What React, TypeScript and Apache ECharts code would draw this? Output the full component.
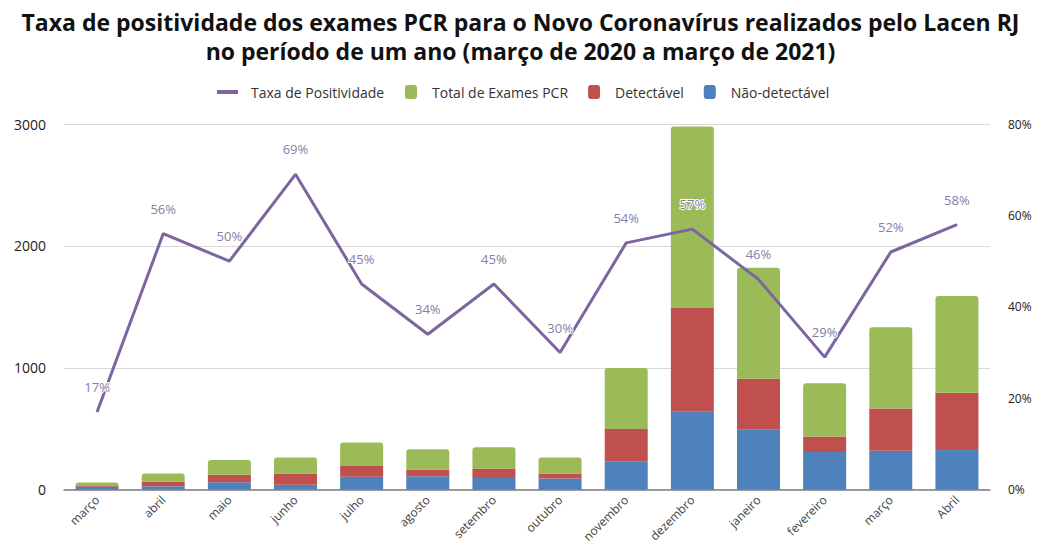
import React, { useEffect, useRef } from "react";
import * as echarts from "echarts";

const categories = ["março", "abril", "maio", "junho", "julho", "agosto", "setembro", "outubro", "novembro", "dezembro", "janeiro", "fevereiro", "março", "Abril"];
const naoDetectavel = [25, 29, 61, 41, 107, 110, 96, 92, 229, 640, 491, 310, 320, 334];
const detectavel = [5, 37, 61, 91, 87, 56, 78, 40, 270, 850, 419, 127, 346, 461];
const totalExames = [30, 66, 122, 132, 194, 166, 174, 132, 499, 1490, 910, 437, 666, 795];
const taxaPositividade = [0.17, 0.56, 0.5, 0.69, 0.45, 0.34, 0.45, 0.3, 0.54, 0.57, 0.46, 0.29, 0.52, 0.58];
const leftTicks = [0, 1000, 2000, 3000];

const FONT = "'Open Sans', 'Noto Sans', sans-serif";

export default function App() {
  const ref = useRef<HTMLDivElement>(null);
  useEffect(() => {
    if (!ref.current) return;
    const chart = echarts.init(ref.current, undefined, { renderer: "svg" });
    chart.setOption({
      animation: false,
      backgroundColor: "#ffffff",
      title: {
        text: "Taxa de positividade dos exames PCR para o Novo Coronavírus realizados pelo Lacen RJ\nno período de um ano (março de 2020 a março de 2021)",
        left: "center",
        top: 2,
        textStyle: { fontFamily: FONT, fontSize: 23, fontWeight: "bold", color: "#111", lineHeight: 29 },
      },
      legend: [
        {
          data: [{ name: "Taxa de Positividade", icon: "rect" }],
          left: 212,
          top: 80,
          itemWidth: 21,
          itemHeight: 4,
          itemGap: 10,
          textStyle: { fontFamily: FONT, fontSize: 14, color: "#333", padding: [0, 0, 0, 8] },
        },
        {
          data: [
            { name: "Total de Exames PCR", icon: "roundRect" },
            { name: "Detectável", icon: "roundRect" },
            { name: "Não-detectável", icon: "roundRect" },
          ],
          left: 400,
          top: 80,
          itemWidth: 12,
          itemHeight: 14,
          itemGap: 20,
          textStyle: { fontFamily: FONT, fontSize: 14, color: "#333", padding: [0, 0, 0, 10] },
        },
      ],
      grid: { left: 64, right: 51, top: 124, bottom: 53, containLabel: false },
      xAxis: {
        type: "category",
        data: categories,
        axisTick: { show: false },
        axisLine: { lineStyle: { color: "#7f7f7f", width: 1.5 } },
        axisLabel: { rotate: 45, fontFamily: FONT, fontSize: 12, color: "#404040", interval: 0, margin: 8 },
      },
      yAxis: [
        {
          type: "value",
          min: leftTicks[0],
          max: leftTicks[leftTicks.length - 1],
          interval: 1000,
          axisLabel: { fontFamily: FONT, fontSize: 14, color: "#222", margin: 18, formatter: (v: number) => String(v) },
          splitLine: { lineStyle: { color: "#d9d9d9" } },
          axisLine: { show: false },
          axisTick: { show: false },
        },
        {
          type: "value",
          min: 0,
          max: 0.8,
          interval: 0.2,
          position: "right",
          axisLabel: { fontFamily: FONT, fontSize: 12, color: "#222", margin: 18, formatter: (v: number) => Math.round(v * 100) + "%" },
          splitLine: { show: false },
          axisLine: { show: false },
          axisTick: { show: false },
        },
      ],
      series: [
        {
          name: "Não-detectável",
          type: "bar",
          stack: "a",
          barWidth: 43,
          data: naoDetectavel,
          itemStyle: { color: "#4f81bd" },
        },
        {
          name: "Detectável",
          type: "bar",
          stack: "a",
          data: detectavel,
          itemStyle: { color: "#c0504d" },
        },
        {
          name: "Total de Exames PCR",
          type: "bar",
          stack: "a",
          data: totalExames,
          itemStyle: { color: "#9bbb59", borderRadius: [3, 3, 0, 0] },
        },
        {
          name: "Taxa de Positividade",
          type: "line",
          yAxisIndex: 1,
          data: taxaPositividade,
          symbol: "circle",
          symbolSize: 1,
          showSymbol: true,
          z: 5,
          itemStyle: { color: "#7d65a0" },
          lineStyle: { color: "#7d65a0", width: 3 },
          label: {
            show: true,
            position: "top",
            distance: 18,
            fontFamily: FONT,
            fontSize: 13,
            color: "#8a7ca8",
            textBorderColor: "#ffffff",
            textBorderWidth: 2,
            formatter: (p: any) => Math.round(p.value * 100) + "%",
          },
        },
      ],
    });
    return () => chart.dispose();
  }, []);
  return (
    <div
      ref={ref}
      style={{ position: "absolute", left: 0, top: 0, width: 1041, height: 545, background: "#fff" }}
    />
  );
}
